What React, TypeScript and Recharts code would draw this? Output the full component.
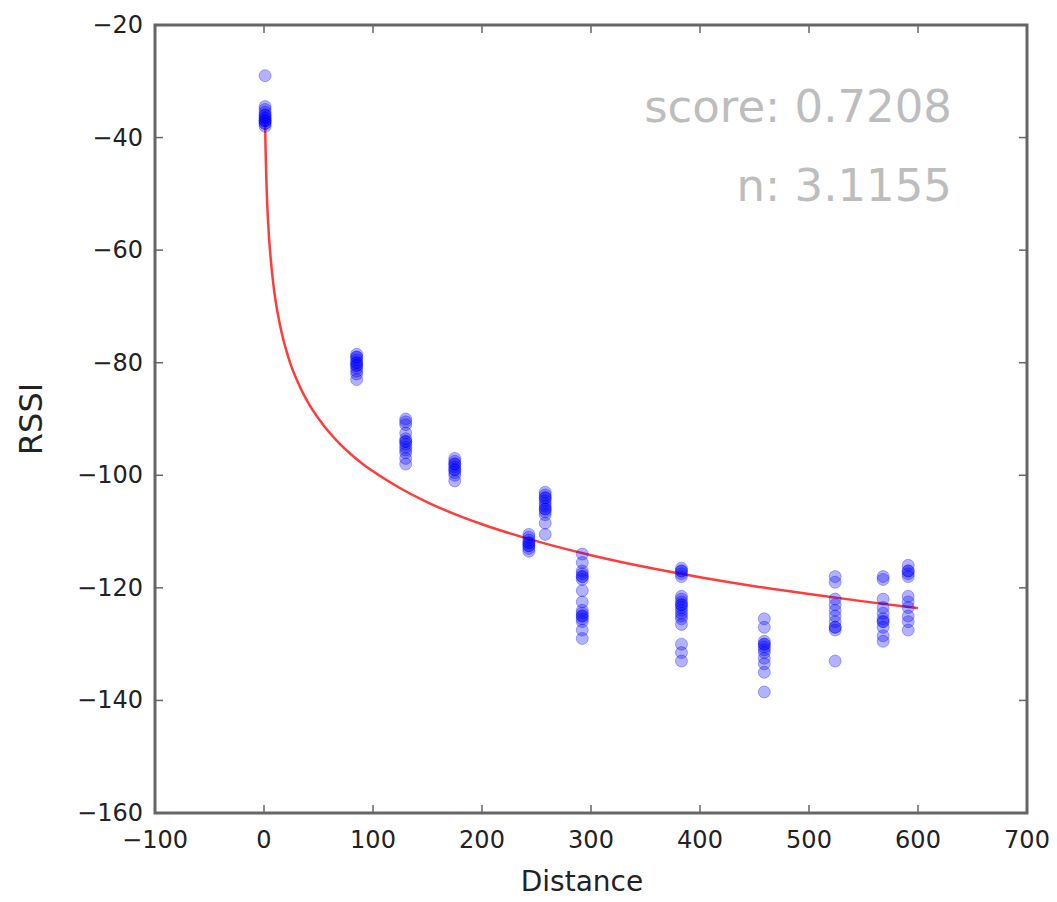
import {
  ComposedChart,
  Scatter,
  Line,
  XAxis,
  YAxis,
  ReferenceArea,
} from "recharts";

// cluster positions (distance) and the RSSI readings measured at each
const clusterDistances = [1, 85, 130, 175, 243, 258, 292, 383, 459, 524, 568, 591];

const rssiAt1 = [-29, -34.5, -35, -35.5, -36, -36, -36.5, -36.5, -37, -37, -37, -37.5, -37.5, -38];
const rssiAt85 = [-78.5, -79, -79, -79.5, -80, -80, -80.5, -80.5, -81, -81.5, -82, -83];
const rssiAt130 = [-90, -90.5, -91, -92.5, -93.5, -94, -94, -94.5, -95, -95.5, -96, -97, -98];
const rssiAt175 = [-97, -97.5, -98, -98, -98.5, -99, -99, -99.5, -100, -101];
const rssiAt243 = [-110.5, -111, -111.5, -112, -112, -112.5, -112.5, -113, -113.5];
const rssiAt258 = [-103, -103.5, -104, -104, -104.5, -105, -105.5, -106, -106, -106.5, -107, -108.5, -110.5];
const rssiAt292 = [-114, -115.5, -117, -117.5, -118, -118, -118.5, -120.5, -122.5, -124, -124.5, -125, -125, -125.5, -126, -127.5, -129];
const rssiAt383 = [-116.5, -117, -117, -117.5, -118, -121.5, -122, -122.5, -123, -123, -123.5, -124, -124.5, -125, -125.5, -126.5, -130, -131.5, -133];
const rssiAt459 = [-125.5, -127, -129.5, -130, -130, -130.5, -131, -131.5, -132.5, -133.5, -135, -138.5];
const rssiAt524 = [-118, -119, -122, -123, -124, -125, -126, -127, -127, -127.5, -133];
const rssiAt568 = [-118, -118.5, -122, -123.5, -124.5, -125.5, -126, -126, -127, -128.5, -129.5];
const rssiAt591 = [-116, -117, -117, -117.5, -118, -121.5, -122.5, -123.5, -125, -126, -127.5];

const rssiClusters = [
  rssiAt1, rssiAt85, rssiAt130, rssiAt175, rssiAt243, rssiAt258,
  rssiAt292, rssiAt383, rssiAt459, rssiAt524, rssiAt568, rssiAt591,
];

// red fitted curve
const fitDistances = [1, 1.5, 2, 3, 4, 5, 6, 7, 8, 10, 12, 15, 18, 20, 25, 30, 35, 40, 45, 50, 60, 70, 80, 90, 100, 125, 150, 175, 200, 250, 300, 350, 400, 450, 500, 550, 600];
const fitRssi = [-37, -42.5, -46.4, -51.9, -55.8, -58.8, -61.2, -63.3, -65.1, -68.2, -70.6, -73.6, -76.1, -77.5, -80.6, -83, -85.1, -86.9, -88.5, -89.9, -92.4, -94.5, -96.3, -97.9, -99.3, -102.3, -104.8, -106.9, -108.7, -111.7, -114.2, -116.3, -118.1, -119.7, -121.1, -122.4, -123.6];

const xTicks = [-100, 0, 100, 200, 300, 400, 500, 600, 700];
const yTicks = [-160, -140, -120, -100, -80, -60, -40, -20];

const scoreText = "score: 0.7208";
const nText = "n: 3.1155";

const scatterData = clusterDistances.flatMap((d, i) =>
  rssiClusters[i].map((rssi) => ({ d, rssi }))
);
const fitData = fitDistances.map((d, i) => ({ d, fit: fitRssi[i] }));

const WIDTH = 1057;
const HEIGHT = 902;
const PLOT_TOP = 25;
const PLOT_LEFT = 155;
const PLOT_RIGHT = 1027;
const FONT = "'DejaVu Sans', sans-serif";
const FRAME = "#666";

const fmt = (v: number) => String(v).replace("-", "\u2212");

const XTick = ({ x, y, payload }: any) => (
  <g>
    <line x1={x} x2={x} y1={y} y2={y - 8} stroke={FRAME} strokeWidth={1.5} />
    <line x1={x} x2={x} y1={PLOT_TOP} y2={PLOT_TOP + 8} stroke={FRAME} strokeWidth={1.5} />
    <text x={x} y={y + 35} textAnchor="middle" fontSize={24} fontFamily={FONT} fill="#222">
      {fmt(payload.value)}
    </text>
  </g>
);

const YTick = ({ x, y, payload }: any) => (
  <g>
    <line x1={PLOT_LEFT} x2={PLOT_LEFT + 8} y1={y} y2={y} stroke={FRAME} strokeWidth={1.5} />
    <line x1={PLOT_RIGHT} x2={PLOT_RIGHT - 8} y1={y} y2={y} stroke={FRAME} strokeWidth={1.5} />
    <text x={PLOT_LEFT - 12} y={y + 8} textAnchor="end" fontSize={24} fontFamily={FONT} fill="#222">
      {fmt(payload.value)}
    </text>
  </g>
);

const Dot = (props: any) => (
  <circle
    cx={props.cx}
    cy={props.cy}
    r={6}
    fill="#0000ff"
    fillOpacity={0.3}
    stroke="#0000ff"
    strokeOpacity={0.3}
    strokeWidth={1}
  />
);

export default function App() {
  return (
    <div style={{ position: "absolute", left: 0, top: 0, width: WIDTH, height: HEIGHT, background: "#fff" }}>
      <ComposedChart
        width={WIDTH}
        height={HEIGHT}
        margin={{ top: PLOT_TOP, right: WIDTH - PLOT_RIGHT, bottom: 0, left: 0 }}
      >
        <XAxis
          type="number"
          dataKey="d"
          domain={[-100, 700]}
          ticks={xTicks}
          interval={0}
          height={89}
          axisLine={false}
          tickLine={false}
          tickSize={0}
          tickMargin={0}
          tick={<XTick />}
          allowDataOverflow
        />
        <YAxis
          type="number"
          domain={[-160, -20]}
          ticks={yTicks}
          interval={0}
          width={PLOT_LEFT}
          axisLine={false}
          tickLine={false}
          tickSize={0}
          tickMargin={0}
          tick={<YTick />}
          allowDataOverflow
        />
        <Scatter
          data={scatterData}
          dataKey="rssi"
          shape={<Dot />}
          isAnimationActive={false}
        />
        <Line
          data={fitData}
          dataKey="fit"
          type="monotone"
          stroke="#ff3b3b"
          strokeWidth={2.5}
          dot={false}
          activeDot={false}
          isAnimationActive={false}
        />
        <ReferenceArea
          x1={-100}
          x2={700}
          y1={-160}
          y2={-20}
          fill="none"
          stroke={FRAME}
          strokeWidth={3}
          ifOverflow="visible"
        />
      </ComposedChart>
      <svg
        width={WIDTH}
        height={HEIGHT}
        style={{ position: "absolute", left: 0, top: 0, pointerEvents: "none" }}
      >
        <text
          x={0}
          y={0}
          transform="translate(42, 419) rotate(-90)"
          textAnchor="middle"
          fontSize={32}
          fontFamily={FONT}
          fill="#222"
        >
          RSSI
        </text>
        <text x={582} y={891} textAnchor="middle" fontSize={28} fontFamily={FONT} fill="#222">
          Distance
        </text>
        <text x={952} y={122} textAnchor="end" fontSize={45} fontFamily={FONT} fill="#bdbdbd">
          {scoreText}
        </text>
        <text x={952} y={201} textAnchor="end" fontSize={45} fontFamily={FONT} fill="#bdbdbd">
          {nText}
        </text>
      </svg>
    </div>
  );
}
